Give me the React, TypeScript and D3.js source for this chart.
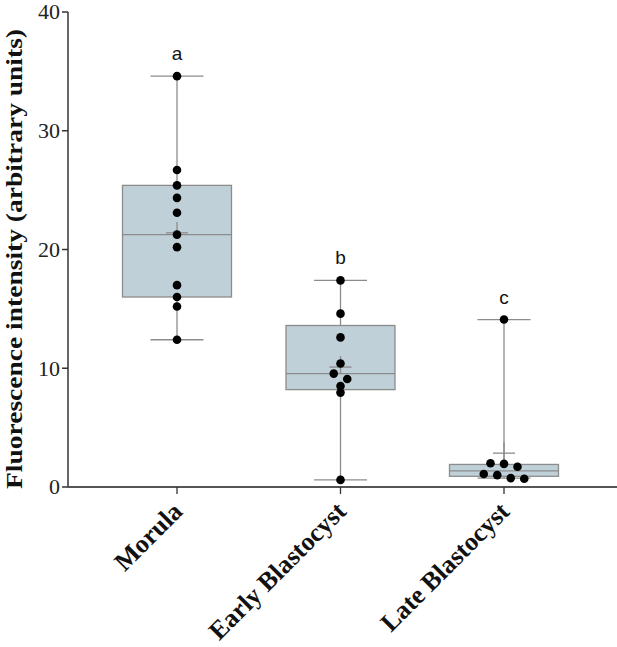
import React from 'react';
import * as d3 from 'd3';

// groups and read-off values
const stages = ['Morula', 'Early Blastocyst', 'Late Blastocyst'];
const letters = ['a', 'b', 'c'];

const morulaPts = [34.6, 26.7, 25.4, 24.35, 23.1, 21.25, 20.2, 17.0, 16.0, 15.2, 12.4];
const earlyPts = [17.4, 14.6, 12.6, 10.4, 9.55, 9.1, 8.5, 7.95, 0.6];
const latePts = [14.1, 2.0, 1.95, 1.7, 1.1, 1.0, 0.75, 0.7];

const q1s = [16.0, 8.2, 0.9];
const medians = [21.25, 9.55, 1.35];
const q3s = [25.4, 13.6, 1.9];
const whiskLo = [12.4, 0.6, 0.75];
const whiskHi = [34.6, 17.4, 14.1];
const means = [21.4, 10.1, 2.85];

const yTicks = [0, 10, 20, 30, 40];

const W = 617;
const H = 647;
const left = 68;
const bottom = 487;
const top = 12;

// dots closer than rowGap px (vertically) share a row and get spread sideways
function rows(vals: number[], y: (v: number) => number, rowGap: number, step: number) {
  const sorted = [...vals].sort((a, b) => b - a);
  const groups: number[][] = [];
  sorted.forEach((v) => {
    const g = groups[groups.length - 1];
    if (g && y(v) - y(g[g.length - 1]) < rowGap) g.push(v);
    else groups.push([v]);
  });
  const out: { dx: number; py: number }[] = [];
  groups.forEach((g) => {
    g.forEach((v, k) => out.push({ dx: (k - (g.length - 1) / 2) * step, py: y(v) }));
  });
  return out;
}

const App = () => {
  const y = d3.scaleLinear().domain([0, 40]).range([bottom, top]);
  const x = d3.scalePoint<string>().domain(stages).range([177, 504]);
  const boxW = 109;
  const capW = 53;
  const meanW = 22;
  const grey = '#8c8c8c';
  const allPts = [morulaPts, earlyPts, latePts];

  return (
    <svg width={W} height={H} style={{ position: 'absolute', left: 0, top: 0, background: '#fff' }}>
      {/* y axis */}
      <line x1={left} x2={left} y1={y(40)} y2={bottom} stroke="#333" strokeWidth={1.5} />
      {yTicks.map((t) => (
        <g key={t}>
          <line x1={left - 6} x2={left} y1={y(t)} y2={y(t)} stroke="#333" strokeWidth={1.5} />
          <text x={left - 8} y={y(t)} dy="0.33em" textAnchor="end"
            fontFamily="Liberation Serif, serif" fontSize={22} fill="#222">{t}</text>
        </g>
      ))}
      <text transform={`translate(22,259) rotate(-90)`} textAnchor="middle"
        textLength={460} lengthAdjust="spacingAndGlyphs"
        fontFamily="Liberation Serif, serif" fontWeight="bold" fontSize={24} fill="#111">
        Fluorescence intensity (arbitrary units)
      </text>

      {/* x axis */}
      <line x1={left} x2={W} y1={bottom} y2={bottom} stroke="#555" strokeWidth={2} />
      {stages.map((s) => (
        <g key={s}>
          <line x1={x(s)} x2={x(s)} y1={bottom} y2={bottom + 7} stroke="#333" strokeWidth={1.3} />
          <text transform={`translate(${(x(s) as number) + 7},${bottom + 26}) rotate(-45)`} textAnchor="end"
            fontFamily="Liberation Serif, serif" fontWeight="bold" fontSize={26} fill="#111">{s}</text>
        </g>
      ))}

      {stages.map((s, i) => {
        const cx = x(s) as number;
        const pts = rows(allPts[i], y, 6, 13.5);
        return (
          <g key={s}>
            <line x1={cx} x2={cx} y1={y(whiskHi[i])} y2={y(whiskLo[i])} stroke={grey} strokeWidth={1.3} />
            <line x1={cx - capW / 2} x2={cx + capW / 2} y1={y(whiskHi[i])} y2={y(whiskHi[i])} stroke={grey} strokeWidth={1.3} />
            <line x1={cx - capW / 2} x2={cx + capW / 2} y1={y(whiskLo[i])} y2={y(whiskLo[i])} stroke={grey} strokeWidth={1.3} />
            <rect x={cx - boxW / 2} y={y(q3s[i])} width={boxW} height={y(q1s[i]) - y(q3s[i])}
              fill="#bfd0d8" stroke={grey} strokeWidth={1.3} />
            <line x1={cx - boxW / 2} x2={cx + boxW / 2} y1={y(medians[i])} y2={y(medians[i])} stroke={grey} strokeWidth={1.3} />
            <line x1={cx - meanW / 2} x2={cx + meanW / 2} y1={y(means[i])} y2={y(means[i])} stroke={grey} strokeWidth={1.3} />
            <line x1={cx} x2={cx} y1={y(means[i]) - 11} y2={y(means[i]) + 6} stroke={grey} strokeWidth={1.3} />
            {pts.map((p, j) => (
              <circle key={j} cx={cx + p.dx} cy={p.py} r={4.3} fill="#000" />
            ))}
            <text x={cx} y={y(whiskHi[i]) - 16} textAnchor="middle"
              fontFamily="Liberation Sans, Arial, sans-serif" fontSize={19} fill="#111">{letters[i]}</text>
          </g>
        );
      })}
    </svg>
  );
};

export default App;
